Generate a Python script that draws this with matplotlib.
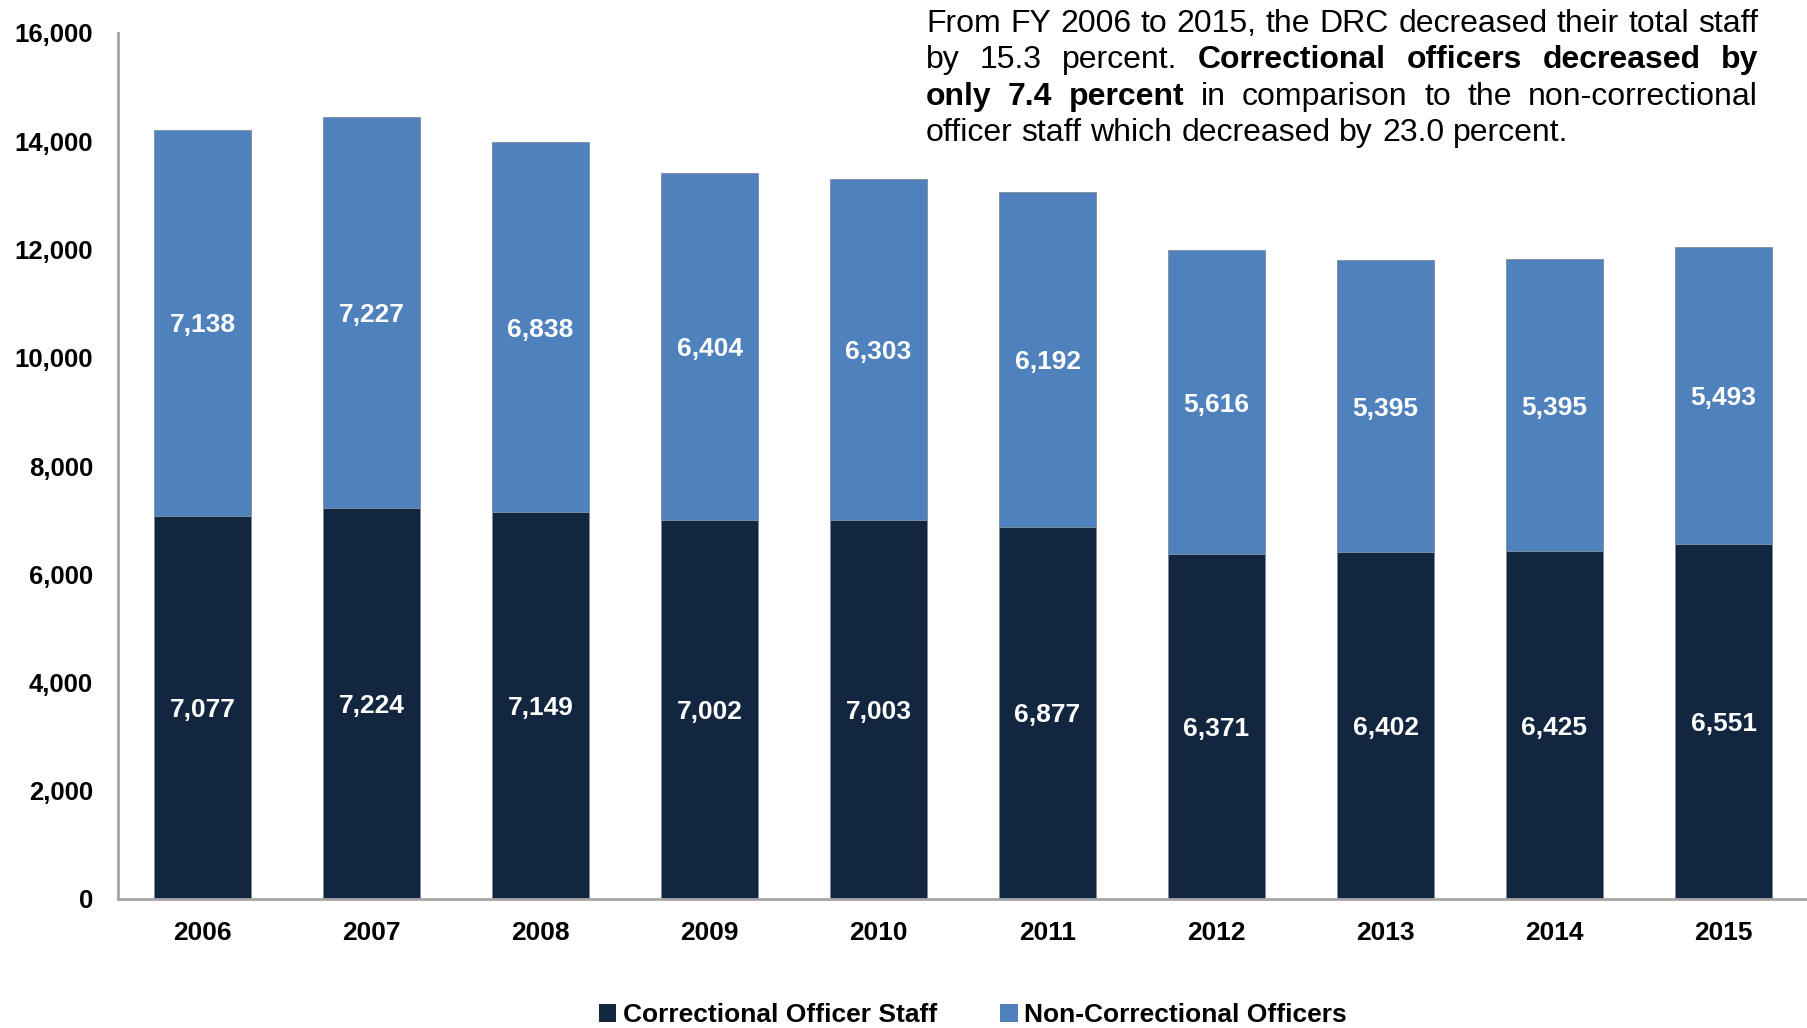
import matplotlib
matplotlib.use("Agg")
import matplotlib.pyplot as plt
from matplotlib.patches import Patch
from matplotlib.ticker import FuncFormatter
import numpy as np

plt.rcParams["font.family"] = ["Liberation Sans", "DejaVu Sans"]

# DRC staffing by fiscal year
years = ["2006", "2007", "2008", "2009", "2010", "2011", "2012", "2013", "2014", "2015"]
correctional = [7077, 7224, 7149, 7002, 7003, 6877, 6371, 6402, 6425, 6551]
non_correctional = [7138, 7227, 6838, 6404, 6303, 6192, 5616, 5395, 5395, 5493]

NAVY = "#132640"
BLUE = "#4f81bd"
AXIS_GRAY = "#a6a6a6"

W, H, DPI = 1808, 1028, 100
fig = plt.figure(figsize=(W / DPI, H / DPI), dpi=DPI)
ax = fig.add_axes([118 / W, 1 - 899 / H, 1 - 118 / W, (899 - 33) / H])

x = np.arange(len(years))
bw = 0.57
ax.bar(x, correctional, bw, color=NAVY, edgecolor="#7d8ca0", linewidth=0.6)
ax.bar(x, non_correctional, bw, bottom=correctional, color=BLUE,
       edgecolor="#7d8ca0", linewidth=0.6)

for xi, c, n in zip(x, correctional, non_correctional):
    ax.text(xi, c / 2, f"{c:,}", ha="center", va="center_baseline", color="white",
            fontsize=19, fontweight="bold")
    ax.text(xi, c + n / 2, f"{n:,}", ha="center", va="center_baseline", color="white",
            fontsize=19, fontweight="bold")

ax.set_xlim(-0.5, len(years) - 0.5)
ax.set_ylim(0, 16000)
ax.set_yticks(np.arange(0, 16001, 2000))
ax.yaxis.set_major_formatter(FuncFormatter(lambda v, _: f"{int(v):,}"))
ax.set_xticks(x)
ax.set_xticklabels(years)
ax.tick_params(axis="y", length=0, pad=18, labelsize=18.5)
ax.tick_params(axis="x", length=0, pad=16, labelsize=19)
for lab in ax.get_xticklabels() + ax.get_yticklabels():
    lab.set_fontweight("bold")

for side in ("top", "right"):
    ax.spines[side].set_visible(False)
for side in ("left", "bottom"):
    ax.spines[side].set_color(AXIS_GRAY)
    ax.spines[side].set_linewidth(2)

handles = [Patch(facecolor=NAVY, label="Correctional Officer Staff"),
           Patch(facecolor=BLUE, label="Non-Correctional Officers")]
fig.legend(handles=handles, loc="center", bbox_to_anchor=(0.538, 1 - 1015 / H),
           ncol=2, frameon=False, handlelength=0.66, handleheight=0.66,
           handletextpad=0.25, columnspacing=2.4,
           prop={"size": 19, "weight": "bold"})

# justified note in the upper right
note_lines = [
    [("From", 0), ("FY", 0), ("2006", 0), ("to", 0), ("2015,", 0), ("the", 0), ("DRC", 0),
     ("decreased", 0), ("their", 0), ("total", 0), ("staff", 0)],
    [("by", 0), ("15.3", 0), ("percent.", 0), ("Correctional", 1), ("officers", 1),
     ("decreased", 1), ("by", 1)],
    [("only", 1), ("7.4", 1), ("percent", 1), ("in", 0), ("comparison", 0), ("to", 0),
     ("the", 0), ("non-correctional", 0)],
    [("officer", 0), ("staff", 0), ("which", 0), ("decreased", 0), ("by", 0), ("23.0", 0),
     ("percent.", 0)],
]
left_px, right_px = 926, 1758
first_base, line_step = 32, 36.3
note_size = 23

renderer = fig.canvas.get_renderer()


def text_width(s, bold):
    t = fig.text(0, 0, s, fontsize=note_size, fontweight="bold" if bold else "normal")
    w = t.get_window_extent(renderer).width
    t.remove()
    return w


space_w = text_width("x x", 0) - text_width("xx", 0)
for i, line in enumerate(note_lines):
    widths = [text_width(w, b) for w, b in line]
    if i < len(note_lines) - 1:
        gap = (right_px - left_px - sum(widths)) / (len(line) - 1)
    else:
        gap = space_w
    cur = left_px
    base = first_base + i * line_step
    for (word, bold), w in zip(line, widths):
        fig.text(cur / W, 1 - base / H, word, fontsize=note_size,
                 fontweight="bold" if bold else "normal", ha="left", va="baseline")
        cur += w + gap

fig.savefig("out.png", dpi=DPI, facecolor="white")
